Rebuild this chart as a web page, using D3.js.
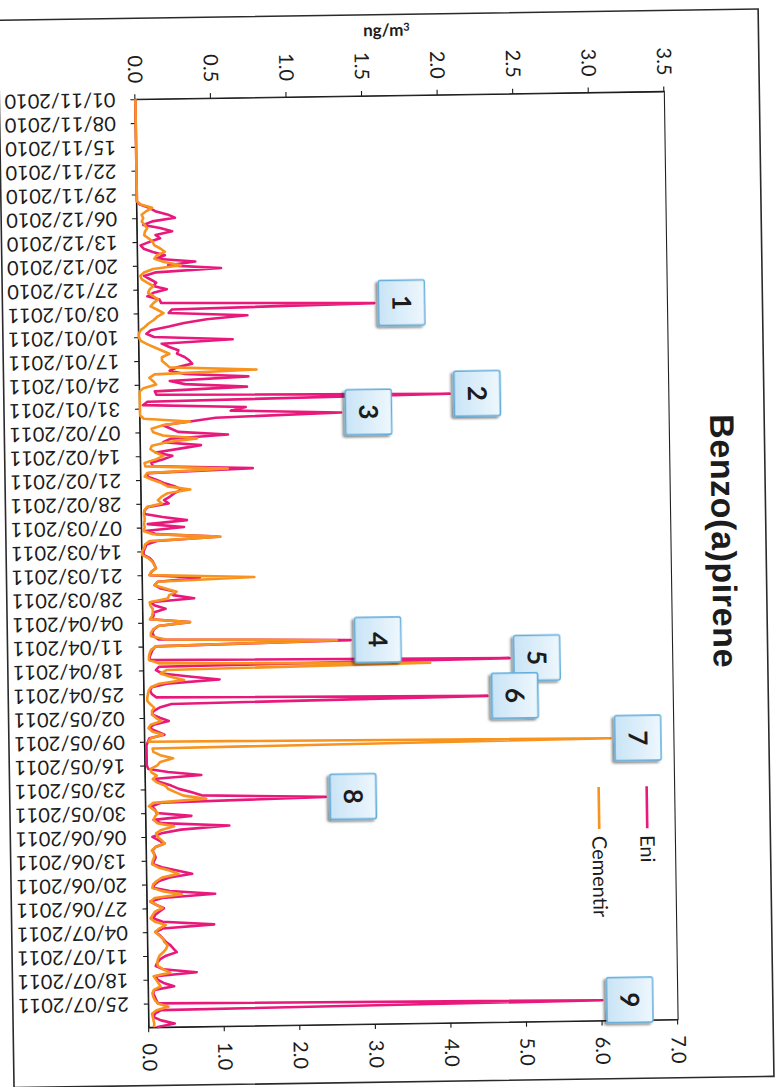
<!DOCTYPE html>
<html>
<head>
<meta charset="utf-8">
<script src="https://cdn.jsdelivr.net/npm/d3@7"></script>
<style>
  html, body { margin: 0; padding: 0; background: #fff; }
  svg { display: block; }
  text { font-family: Lato, "Open Sans", sans-serif; fill: #1c1c1c; }
</style>
</head>
<body>
<svg id="chart" width="782" height="1087"></svg>
<script>
// Daily Benzo(a)pirene concentrations, one array per month, first day 01/11/2010.
const firstDay = "2010-11-01";

// Eni station, ng/m3 (primary axis)
const eniNov = [0,0,0,0,0,0,0,0,0,0,0,0,0,0,0,0,0,0,0,0,0,0,0,0,0,0,0,0,0,0];
const eniDec = [0,0.02,0.08,0.12,0.2,0.25,0.1,0.04,0.15,0.23,0.12,0.15,0.08,0.02,0.04,0.1,0.18,0.12,0.38,0.2,0.55,0.12,0.04,0.08,0.12,0.1,0.19,0.1,0.06,0.14,0.15];
const eniJan = [1.56,0.22,0.2,0.72,0.45,0.3,0.2,0.08,0.05,0.1,0.62,0.15,0.2,0.26,0.25,0.3,0.33,0.35,0.25,0.2,0.3,0.72,0.2,0.3,0.71,0.1,0.11,2.05,0.05,0.02,0.7];
const eniFeb = [0.6,1.33,0.5,0.33,0.15,0.2,0.25,0.58,0.2,0.15,0.4,0.25,0.1,0.21,0.15,0.07,0.08,0.74,0.05,0.04,0.1,0.15,0.22,0.27,0.22,0.19,0.15,0.18];
const eniMar = [0.04,0.02,0.02,0.14,0.3,0.04,0.28,0.02,0.1,0.5,0.1,0.03,0.02,0.01,0.01,0.05,0.07,0.08,0.09,0.06,0.05,0.38,0.1,0.08,0.12,0.22,0.2,0.34,0.05,0.08,0.15];
const eniApr = [0.07,0.07,0.05,0.31,0.1,0.07,0.06,0.07,0.1,1.37,0.08,0.06,0.05,0.04,0.04,2.42,0.1,0.08,0.12,0.3,0.5,0.15,0.05,0.04,0.05,0.08,2.27,0.18,0.1,0.06];
const eniMay = [0.05,0.1,0.16,0.06,0.03,0.08,0.13,0.03,0.02,0.01,0.01,0.01,0.01,0.01,0.01,0.01,0.02,0.15,0.37,0.05,0.1,0.17,0.22,0.3,0.37,1.19,0.1,0.04,0.06,0.07,0.3];
const eniJun = [0.05,0.1,0.55,0.23,0.1,0.04,0.08,0.12,0.06,0.04,0.05,0.06,0.05,0.04,0.1,0.2,0.3,0.15,0.08,0.05,0.04,0.15,0.45,0.1,0.02,0.06,0.11,0.08,0.05,0.04];
const eniJul = [0.1,0.44,0.1,0.05,0.08,0.1,0.12,0.15,0.17,0.19,0.12,0.08,0.06,0.05,0.1,0.32,0.05,0.06,0.1,0.17,0.04,0.03,0.04,0.05,0.06,3.0,0.08,0.04,0.03,0.08,0.17];
const eniAug = [0.05];

// Cementir station, ng/m3 (secondary axis)
const cemNov = [0,0,0,0,0,0,0,0,0,0,0,0,0,0,0,0,0,0,0,0,0,0,0,0,0,0,0,0,0,0];
const cemDec = [0,0.05,0.2,0.12,0.06,0.08,0.06,0.1,0.13,0.1,0.09,0.15,0.2,0.22,0.3,0.36,0.25,0.22,0.35,0.57,0.2,0.08,0.03,0.05,0.12,0.2,0.15,0.13,0.2,0.26,0.2];
const cemJan = [0.16,0.25,0.33,0.25,0.2,0.13,0.08,0.02,0,0,0.02,0.1,0.2,0.3,0.4,0.3,0.3,0.35,0.4,1.55,0.2,0.13,0.18,0.22,0.05,0,0,0,0,0,0];
const cemFeb = [0,0,0.05,0.66,0.3,0.15,0.17,0.3,0.75,0.35,0.15,0.13,0.2,0.3,0.2,0.05,0.06,1.15,0.08,0.05,0.15,0.27,0.35,0.65,0.35,0.27,0.22,0.27];
const cemMar = [0.07,0.04,0.03,0.04,0.04,0.03,0.04,0.02,0.15,1.04,0.1,0.04,0.03,0,0,0.08,0.13,0.16,0.18,0.12,0.09,1.48,0.2,0.16,0.3,0.45,0.35,0.33,0.09,0.1,0.13];
const cemApr = [0.13,0.12,0.09,0.62,0.2,0.13,0.1,0.1,0.3,2.56,0.16,0.1,0.08,0.07,0.07,0.2,3.79,0.3,0.22,0.35,0.53,0.2,0.09,0.06,0.05,0.04,0.04,0.08,0.13,0.1];
const cemMay = [0.1,0.15,0.22,0.08,0.05,0.1,0.24,0.08,0.05,6.16,0.1,0.11,0.2,0.37,0.2,0.16,0.07,0.08,0.15,0.1,0.15,0.26,0.3,0.4,0.5,0.8,0.1,0.04,0.1,0.16,0.12];
const cemJun = [0.1,0.15,0.37,0.2,0.13,0.15,0.2,0.24,0.12,0.07,0.1,0.1,0.08,0.07,0.15,0.3,0.42,0.2,0.13,0.08,0.07,0.2,0.46,0.1,0.04,0.12,0.2,0.1,0.07,0.04];
const cemJul = [0.1,0.24,0.15,0.1,0.15,0.2,0.22,0.26,0.24,0.2,0.15,0.13,0.12,0.13,0.2,0.29,0.07,0.1,0.13,0.16,0.07,0.05,0.06,0.08,0.12,0.26,0.1,0.04,0.05,0.06,0.07];
const cemAug = [0.06];

// Axis ticks
const primaryTicks = [0, 0.5, 1.0, 1.5, 2.0, 2.5, 3.0, 3.5];
const secondaryTicks = [0, 1, 2, 3, 4, 5, 6, 7];

// Series names and colours
const seriesNames = ["Eni", "Cementir"];
const seriesColors = ["#e8197b", "#f7931e"];

// Numbered call-outs at the main peaks
const calloutLabels = ["1", "2", "3", "4", "5", "6", "7", "8", "9"];
const calloutDates = ["2011-01-01", "2011-01-28", "2011-02-02", "2011-04-10", "2011-04-16",
                      "2011-04-27", "2011-05-10", "2011-05-26", "2011-07-26"];
const calloutSeries = ["Eni", "Eni", "Eni", "Eni", "Eni", "Eni", "Cementir", "Eni", "Eni"];

// ---------------------------------------------------------------------------
const parse = d3.utcParse("%Y-%m-%d");
const start = parse(firstDay);
const eniValues = [].concat(eniNov, eniDec, eniJan, eniFeb, eniMar, eniApr, eniMay, eniJun, eniJul, eniAug);
const cemValues = [].concat(cemNov, cemDec, cemJan, cemFeb, cemMar, cemApr, cemMay, cemJun, cemJul, cemAug);
const toPoints = vals => vals.map((v, i) => ({ date: d3.utcDay.offset(start, i), value: v }));
const eniData = toPoints(eniValues);
const cemData = toPoints(cemValues);
const end = eniData[eniData.length - 1].date;

// The chart is laid out landscape and turned a quarter turn onto the page.
const svg = d3.select("#chart");
const root = svg.append("g")
  .attr("transform", "translate(391,543.5) rotate(89.15) translate(-543.5,-391)");

const plot = { left: 95.5, right: 1023.7, top: 111, bottom: 640 };

// Outer frame
root.append("rect")
  .attr("x", 14.5).attr("y", 16).attr("width", 1067.5).attr("height", 760)
  .attr("fill", "#fff").attr("stroke", "#2a2a2a").attr("stroke-width", 1.6);

const x = d3.scaleUtc().domain([start, end]).range([plot.left, plot.right]);
const yP = d3.scaleLinear().domain([0, 3.5]).range([plot.bottom, plot.top]);
const yS = d3.scaleLinear().domain([0, 7]).range([plot.bottom, plot.top]);

// Plot area border
root.append("rect")
  .attr("x", plot.left).attr("y", plot.top)
  .attr("width", plot.right - plot.left).attr("height", plot.bottom - plot.top)
  .attr("fill", "none").attr("stroke", "#222").attr("stroke-width", 1.1);

// Title
root.append("text")
  .attr("x", 546).attr("y", 70)
  .attr("text-anchor", "middle")
  .style("font-family", "'Liberation Sans', Arial, sans-serif")
  .style("font-weight", "bold").style("font-size", "34px").style("letter-spacing", "0.6px")
  .text("Benzo(a)pirene");

// Primary value axis (ng/m3)
const axP = root.append("g").attr("transform", `translate(${plot.left},0)`)
  .call(d3.axisLeft(yP).tickValues(primaryTicks).tickFormat(d3.format(".1f"))
    .tickSize(5).tickSizeOuter(0).tickPadding(11));
axP.selectAll("text").style("font-size", "20px").style("font-family", "Lato, sans-serif");

const unit = root.append("text")
  .attr("transform", `translate(36,388) rotate(-90)`)
  .attr("text-anchor", "middle")
  .style("font-size", "17px").style("font-weight", "bold");
unit.append("tspan").text("ng/m");
unit.append("tspan").attr("dy", "-0.45em").style("font-size", "11px").text("3");

// Secondary value axis
const axS = root.append("g").attr("transform", `translate(${plot.right},0)`)
  .call(d3.axisRight(yS).tickValues(secondaryTicks).tickFormat(d3.format(".1f"))
    .tickSize(5).tickSizeOuter(0).tickPadding(11));
axS.selectAll("text").style("font-size", "20px").style("font-family", "Lato, sans-serif");

// Date axis, weekly ticks
const fmt = d3.utcFormat("%d/%m/%Y");
const axD = root.append("g").attr("transform", `translate(0,${plot.bottom})`)
  .call(d3.axisBottom(x).tickValues(d3.utcMonday.range(start, end)).tickFormat(fmt)
    .tickSize(5).tickSizeOuter(0));
axD.selectAll("text")
  .attr("transform", "rotate(90)")
  .attr("x", 20).attr("y", 0).attr("dy", "0.35em")
  .attr("text-anchor", "start")
  .style("font-size", "20px").style("font-family", "Lato, sans-serif");

root.selectAll(".domain, .tick line").attr("stroke", "#1a1a1a").attr("stroke-width", 1.1);

// Series lines (Cementir drawn on top)
const lineP = d3.line().x(d => x(d.date)).y(d => yP(d.value));
const lineS = d3.line().x(d => x(d.date)).y(d => yS(d.value));
root.append("path").datum(eniData)
  .attr("d", lineP).attr("fill", "none")
  .attr("stroke", seriesColors[0]).attr("stroke-width", 2.6).attr("stroke-linejoin", "round");
root.append("path").datum(cemData)
  .attr("d", lineS).attr("fill", "none")
  .attr("stroke", seriesColors[1]).attr("stroke-width", 2.6).attr("stroke-linejoin", "round");

// Legend
const legend = root.append("g");
seriesNames.forEach((name, i) => {
  const v = 139 + i * 48;
  legend.append("line")
    .attr("x1", 790).attr("x2", 832).attr("y1", v).attr("y2", v)
    .attr("stroke", seriesColors[i]).attr("stroke-width", 2.6);
  legend.append("text")
    .attr("x", 839).attr("y", v).attr("dy", "0.35em")
    .style("font-size", "20px")
    .text(name);
});

// Call-out boxes
const defs = svg.append("defs");
const grad = defs.append("linearGradient").attr("id", "boxFill")
  .attr("x1", "0").attr("y1", "0").attr("x2", "0").attr("y2", "1");
grad.append("stop").attr("offset", "0").attr("stop-color", "#eef7fd");
grad.append("stop").attr("offset", "1").attr("stop-color", "#c9e4f6");
const shadow = defs.append("filter").attr("id", "boxShadow")
  .attr("x", "-20%").attr("y", "-20%").attr("width", "150%").attr("height", "150%");
shadow.append("feDropShadow").attr("dx", 2).attr("dy", 2.5).attr("stdDeviation", 1.3)
  .attr("flood-color", "#000").attr("flood-opacity", 0.45);

const seriesLookup = { "Eni": { data: eniData, y: yP }, "Cementir": { data: cemData, y: yS } };
const boxW = 45, boxH = 46, gap = 4.5;
calloutLabels.forEach((label, i) => {
  const s = seriesLookup[calloutSeries[i]];
  const date = parse(calloutDates[i]);
  const pt = s.data.find(d => +d.date === +date);
  const uc = x(date);
  const vb = s.y(pt.value) - gap;
  const g = root.append("g");
  g.append("rect")
    .attr("x", uc - boxW / 2).attr("y", vb - boxH)
    .attr("width", boxW).attr("height", boxH).attr("rx", 2)
    .attr("fill", "url(#boxFill)").attr("stroke", "#62aedc").attr("stroke-width", 1.6)
    .attr("filter", "url(#boxShadow)");
  g.append("text")
    .attr("x", uc).attr("y", vb - boxH / 2).attr("dy", "0.36em")
    .attr("text-anchor", "middle")
    .style("font-size", "26px").style("font-weight", "bold")
    .text(label);
});
</script>
</body>
</html>
